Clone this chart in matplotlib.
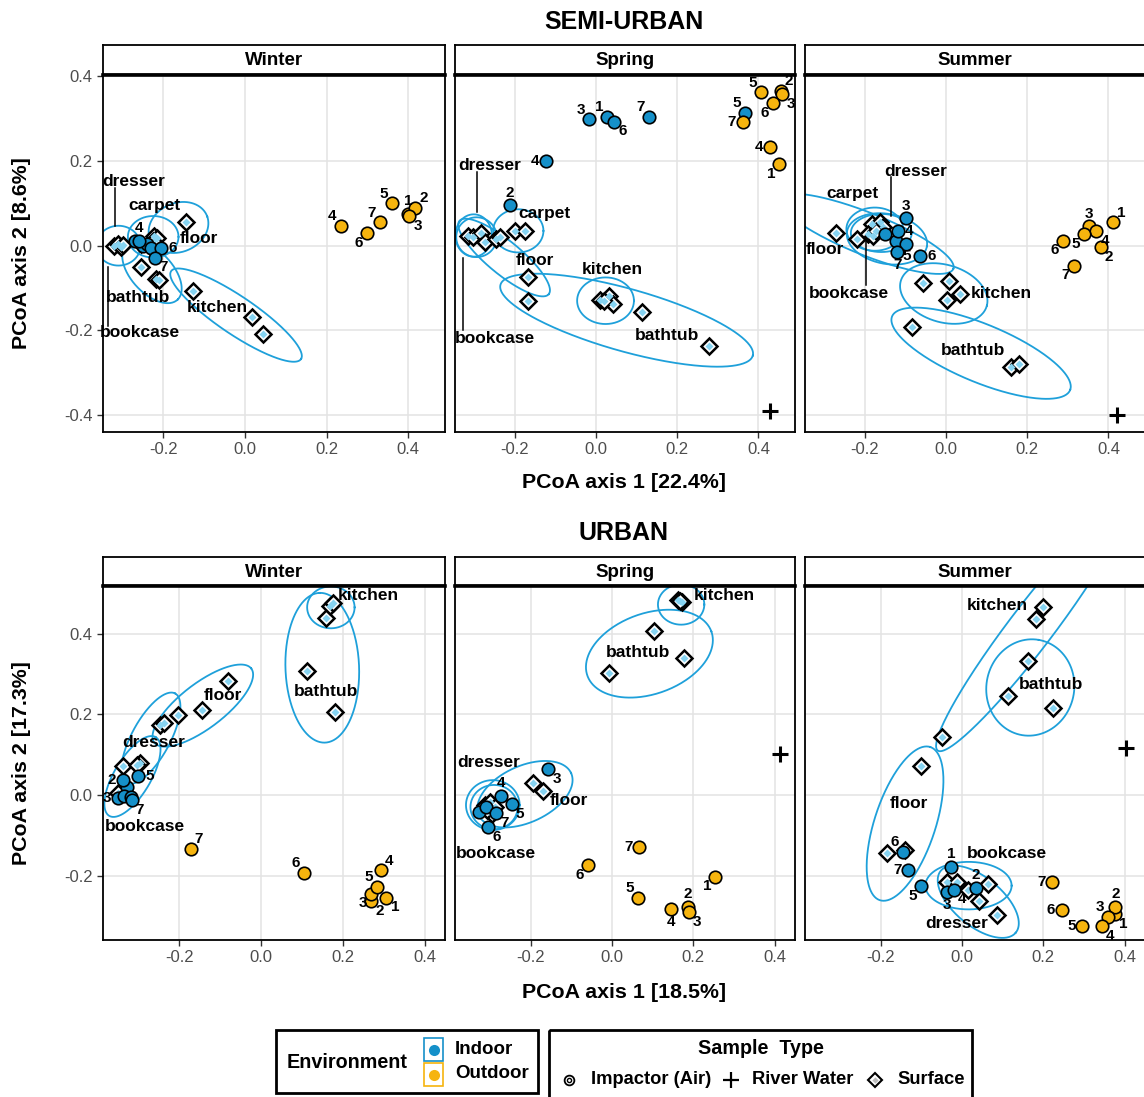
import numpy as np
import matplotlib.pyplot as plt
from matplotlib.patches import Rectangle

plt.rcParams['font.family'] = ['Liberation Sans', 'DejaVu Sans']

W, H = 1144, 1097
BLUE = '#1590c9'
ORANGE = '#f6b40e'
RING = '#1ea0da'
LIGHT = '#86d3f1'
TICK = '#4d4d4d'

seasons = ['Winter', 'Spring', 'Summer']
site_ids = ['1', '2', '3', '4', '5', '6', '7']

# ---------------- SEMI-URBAN ----------------
su_win_in_x = [-0.25, -0.27, -0.24, -0.26, -0.23, -0.205, -0.22]
su_win_in_y = [0.0, 0.01, 0.005, 0.012, -0.005, -0.005, -0.028]
su_win_in_lab = ['', '', '', 'u', '', 'r', 'dr']
su_win_out_x = [0.40, 0.417, 0.403, 0.234, 0.36, 0.298, 0.331]
su_win_out_y = [0.075, 0.09, 0.07, 0.047, 0.10, 0.029, 0.055]
su_win_out_lab = ['u', 'ur', 'dr', 'ul', 'ul', 'dl', 'ul']
su_win_surf_x = [-0.320, -0.312, -0.305, -0.298, -0.255, -0.235, -0.222, -0.215, -0.226,
                 -0.145, -0.254, -0.217, -0.210, -0.128, 0.017, 0.044]
su_win_surf_y = [0.000, 0.003, -0.004, 0.001, 0.005, 0.002, 0.022, 0.018, 0.012,
                 0.055, -0.051, -0.078, -0.082, -0.106, -0.169, -0.209]
su_win_river = None
su_win_groups = ['dresser', 'carpet', 'floor', 'bathtub', 'kitchen', 'bookcase']
su_win_gx = [-0.274, -0.221, -0.113, -0.262, -0.068, -0.258]
su_win_gy = [0.151, 0.094, 0.016, -0.123, -0.145, -0.204]
su_win_leaders = [(-0.318, 0.137, 0.047), (-0.336, -0.190, -0.051)]
su_win_ell = [(-0.310, 0.000, 0.054, 0.047, 0), (-0.225, 0.021, 0.062, 0.049, 0),
              (-0.163, 0.043, 0.075, 0.058, 20), (-0.228, -0.063, 0.090, 0.050, -45),
              (-0.022, -0.164, 0.190, 0.045, -33)]

su_spr_in_x = [0.027, -0.212, -0.018, -0.123, 0.366, 0.045, 0.131]
su_spr_in_y = [0.305, 0.095, 0.298, 0.201, 0.313, 0.293, 0.305]
su_spr_in_lab = ['ul', 'u', 'ul', 'l', 'ul', 'dr', 'ul']
su_spr_out_x = [0.451, 0.455, 0.459, 0.428, 0.407, 0.435, 0.362]
su_spr_out_y = [0.193, 0.366, 0.357, 0.234, 0.362, 0.336, 0.291]
su_spr_out_lab = ['dl', 'ur', 'dr', 'l', 'ul', 'dl', 'l']
su_spr_surf_x = [-0.316, -0.303, -0.283, -0.275, -0.246, -0.237, -0.200, -0.175,
                 -0.167, -0.167, 0.009, 0.031, 0.042, 0.020, 0.112, 0.277]
su_spr_surf_y = [0.024, 0.020, 0.031, 0.008, 0.016, 0.020, 0.034, 0.034,
                 -0.073, -0.131, -0.128, -0.120, -0.138, -0.130, -0.157, -0.236]
su_spr_river = (0.428, -0.391)
su_spr_groups = ['dresser', 'carpet', 'floor', 'kitchen', 'bathtub', 'bookcase']
su_spr_gx = [-0.262, -0.127, -0.152, 0.040, 0.174, -0.250]
su_spr_gy = [0.189, 0.075, -0.034, -0.057, -0.211, -0.219]
su_spr_leaders = [(-0.295, 0.173, 0.079), (-0.328, -0.200, -0.028)]
su_spr_ell = [(-0.302, 0.024, 0.045, 0.050, 0), (-0.295, 0.020, 0.050, 0.047, 0),
              (-0.192, 0.035, 0.062, 0.051, 0), (-0.227, -0.028, 0.140, 0.040, -38),
              (0.023, -0.130, 0.070, 0.055, 0), (0.075, -0.176, 0.322, 0.074, -15)]

su_sum_in_x = [-0.152, -0.123, -0.100, -0.119, -0.098, -0.064, -0.121]
su_sum_in_y = [0.028, 0.012, 0.065, 0.035, 0.005, -0.025, -0.016]
su_sum_in_lab = ['', '', 'u', 'r', 'd', 'r', 'd']
su_sum_out_x = [0.412, 0.381, 0.352, 0.370, 0.340, 0.289, 0.314]
su_sum_out_y = [0.055, -0.004, 0.046, 0.035, 0.028, 0.012, -0.047]
su_sum_out_lab = ['ur', 'dr', 'u', 'dr', 'dl', 'dl', 'dl']
su_sum_surf_x = [-0.272, -0.221, -0.184, -0.164, -0.193, -0.180, -0.156, -0.172,
                 -0.057, 0.006, 0.002, 0.034, -0.084, 0.160, 0.180]
su_sum_surf_y = [0.029, 0.016, 0.051, 0.055, 0.028, 0.024, 0.043, 0.035,
                 -0.089, -0.084, -0.128, -0.114, -0.193, -0.286, -0.280]
su_sum_river = (0.422, -0.400)
su_sum_groups = ['dresser', 'carpet', 'floor', 'bookcase', 'kitchen', 'bathtub']
su_sum_gx = [-0.075, -0.231, -0.300, -0.239, 0.135, 0.066]
su_sum_gy = [0.175, 0.124, -0.008, -0.114, -0.112, -0.248]
su_sum_leaders = [(-0.135, 0.161, 0.071), (-0.197, 0.012, -0.094)]
su_sum_ell = [(-0.197, 0.028, 0.230, 0.050, -21), (-0.176, 0.039, 0.070, 0.051, 0),
              (-0.146, 0.016, 0.100, 0.059, -10), (-0.160, 0.030, 0.075, 0.045, 0),
              (-0.006, -0.113, 0.110, 0.068, -15), (0.086, -0.254, 0.236, 0.069, -21.5)]

# ---------------- URBAN ----------------
u_win_in_x = [-0.327, -0.338, -0.349, -0.335, -0.300, -0.318, -0.316]
u_win_in_y = [0.021, 0.037, -0.008, -0.002, 0.047, -0.004, -0.012]
u_win_in_lab = ['', 'l', 'l', '', 'r', '', 'dr']
u_win_out_x = [0.307, 0.270, 0.270, 0.293, 0.283, 0.105, -0.172]
u_win_out_y = [-0.255, -0.264, -0.245, -0.187, -0.228, -0.193, -0.133]
u_win_out_lab = ['dr', 'dr', 'dl', 'ur', 'ul', 'ul', 'ur']
u_win_surf_x = [-0.336, -0.296, -0.302, -0.349, -0.247, -0.236, -0.202, -0.145, -0.080,
                0.113, 0.181, 0.160, 0.169, 0.177]
u_win_surf_y = [0.072, 0.079, 0.074, 0.004, 0.174, 0.178, 0.199, 0.212, 0.282,
                0.307, 0.206, 0.440, 0.469, 0.477]
u_win_river = None
u_win_groups = ['kitchen', 'bathtub', 'floor', 'dresser', 'bookcase']
u_win_gx = [0.262, 0.159, -0.092, -0.261, -0.283]
u_win_gy = [0.496, 0.257, 0.246, 0.131, -0.077]
u_win_leaders = []
u_win_ell = [(-0.314, 0.046, 0.113, 0.045, 60), (-0.269, 0.141, 0.126, 0.047, 62),
             (-0.142, 0.222, 0.150, 0.055, 38), (0.150, 0.316, 0.186, 0.090, 92),
             (0.171, 0.466, 0.058, 0.052, 0)]

u_spr_in_x = [-0.327, -0.310, -0.157, -0.273, -0.247, -0.304, -0.285]
u_spr_in_y = [-0.041, -0.030, 0.064, -0.002, -0.022, -0.079, -0.045]
u_spr_in_lab = ['', '', 'dr', 'u', 'dr', 'dr', 'dr']
u_spr_out_x = [0.254, 0.187, 0.189, 0.144, 0.063, -0.058, 0.067]
u_spr_out_y = [-0.203, -0.278, -0.290, -0.284, -0.255, -0.174, -0.129]
u_spr_out_lab = ['dl', 'u', 'dr', 'd', 'ul', 'dl', 'l']
u_spr_surf_x = [-0.312, -0.300, -0.287, -0.295, -0.308, -0.195, -0.169,
                -0.007, 0.103, 0.177, 0.163, 0.173, 0.168]
u_spr_surf_y = [-0.025, -0.017, -0.029, -0.046, -0.037, 0.029, 0.010,
                0.303, 0.408, 0.340, 0.484, 0.479, 0.481]
u_spr_river = (0.413, 0.102)
u_spr_groups = ['kitchen', 'bathtub', 'dresser', 'floor', 'bookcase']
u_spr_gx = [0.276, 0.064, -0.304, -0.107, -0.286]
u_spr_gy = [0.496, 0.353, 0.081, -0.014, -0.145]
u_spr_leaders = []
u_spr_ell = [(-0.293, -0.025, 0.066, 0.062, 0), (-0.290, -0.030, 0.058, 0.055, 0),
             (-0.214, 0.002, 0.125, 0.070, 25), (0.092, 0.351, 0.162, 0.100, 20),
             (0.170, 0.473, 0.057, 0.050, 0)]

u_sum_in_x = [-0.027, 0.035, -0.037, -0.020, -0.100, -0.144, -0.132]
u_sum_in_y = [-0.178, -0.230, -0.241, -0.235, -0.227, -0.141, -0.187]
u_sum_in_lab = ['u', 'u', 'd', 'dr', 'dl', 'ul', 'l']
u_sum_out_x = [0.376, 0.377, 0.359, 0.344, 0.296, 0.245, 0.222]
u_sum_out_y = [-0.295, -0.278, -0.303, -0.325, -0.325, -0.286, -0.217]
u_sum_out_lab = ['dr', 'u', 'ul', 'dr', 'l', 'l', 'l']
u_sum_surf_x = [0.200, 0.182, 0.162, 0.114, 0.224, -0.049, -0.100, -0.184, -0.139,
                -0.037, -0.012, 0.016, 0.064, 0.042, 0.086]
u_sum_surf_y = [0.467, 0.436, 0.334, 0.247, 0.215, 0.145, 0.072, -0.143, -0.137,
                -0.217, -0.215, -0.237, -0.220, -0.264, -0.297]
u_sum_river = (0.404, 0.116)
u_sum_groups = ['kitchen', 'bathtub', 'floor', 'bookcase', 'dresser']
u_sum_gx = [0.087, 0.218, -0.131, 0.110, -0.012]
u_sum_gy = [0.470, 0.274, -0.021, -0.145, -0.320]
u_sum_leaders = []
u_sum_ell = [(0.169, 0.414, 0.380, 0.054, 53), (0.168, 0.267, 0.120, 0.108, 80),
             (-0.140, -0.071, 0.200, 0.075, 72), (0.016, -0.225, 0.106, 0.059, 0),
             (0.040, -0.265, 0.120, 0.060, -40)]

# label offsets (points) for the numbered sites
OFF = {'u': (0, 9), 'd': (0, -9), 'l': (-8, 0), 'r': (8, 0),
       'ul': (-6, 7), 'ur': (6, 7), 'dl': (-6, -7), 'dr': (6, -7)}


def px_axes(fig, x0, y0, x1, y1):
    return fig.add_axes([x0 / W, 1 - y1 / H, (x1 - x0) / W, (y1 - y0) / H])


def draw_ellipse(ax, cx, cy, a, b, ang):
    t = np.linspace(0, 2 * np.pi, 300)
    th = np.radians(ang)
    x = cx + a * np.cos(t) * np.cos(th) - b * np.sin(t) * np.sin(th)
    y = cy + a * np.cos(t) * np.sin(th) + b * np.sin(t) * np.cos(th)
    ax.plot(x, y, color=RING, lw=1.3, zorder=2)


def draw_panel(ax, p):
    for e in p['ell']:
        draw_ellipse(ax, *e)
    # surface swabs: black diamond, white ring, light blue core
    ax.plot(p['sx'], p['sy'], 'D', ms=8, mfc='white', mec='black', mew=1.8, zorder=3)
    ax.plot(p['sx'], p['sy'], 'D', ms=3.6, mfc=LIGHT, mec='none', zorder=3.5)
    ax.plot(p['ix'], p['iy'], 'o', ms=9, mfc=BLUE, mec='black', mew=1.2, zorder=4)
    ax.plot(p['ox'], p['oy'], 'o', ms=9, mfc=ORANGE, mec='black', mew=1.2, zorder=4)
    if p['river'] is not None:
        ax.plot(*p['river'], '+', ms=12, mec='black', mew=2.2, zorder=4)
    for xs, ys, labs in [(p['ix'], p['iy'], p['ilab']), (p['ox'], p['oy'], p['olab'])]:
        for x, y, s, d in zip(xs, ys, site_ids, labs):
            if d:
                ax.annotate(s, (x, y), xytext=OFF[d], textcoords='offset points',
                            ha='center', va='center', fontsize=11, weight='bold', zorder=5)
    for g, x, y in zip(p['groups'], p['gx'], p['gy']):
        ax.text(x, y, g, ha='center', va='center', fontsize=12.5, weight='bold', zorder=5)
    for x, y0, y1 in p['leaders']:
        ax.plot([x, x], [y0, y1], color='black', lw=1.1, zorder=5)


def make_row(fig, panels, top, strip, xlim, ylim, yticks, title, xlab, ylab):
    cols = [(103, 445), (455, 795), (805, 1145)]
    for k, (p, (x0, x1)) in enumerate(zip(panels, cols)):
        ax = px_axes(fig, x0, top[0], x1, top[1])
        ax.set_xlim(*xlim)
        ax.set_ylim(*ylim)
        ax.set_xticks([-0.2, 0.0, 0.2, 0.4])
        ax.set_xticklabels(['-0.2', '0.0', '0.2', '0.4'])
        ax.set_yticks(yticks)
        ax.set_yticklabels(['%.1f' % v for v in yticks] if k == 0 else [])
        ax.tick_params(length=4, color='#333333', labelcolor=TICK, labelsize=12,
                       width=1, left=(k == 0))
        ax.grid(color='#e3e3e3', lw=1.1)
        ax.set_axisbelow(True)
        for sp in ax.spines.values():
            sp.set_linewidth(1.3)
        ax.spines['top'].set_linewidth(2.6)
        draw_panel(ax, p)
        sx = px_axes(fig, x0, strip[0], x1, strip[1])
        sx.set_xticks([])
        sx.set_yticks([])
        for sp in sx.spines.values():
            sp.set_linewidth(1.3)
        sx.text(0.5, 0.45, seasons[k], transform=sx.transAxes, ha='center', va='center',
                fontsize=13.5, weight='bold')
    fig.text(624 / W, 1 - title[1] / H, title[0], ha='center', va='center',
             fontsize=18, weight='bold')
    fig.text(624 / W, 1 - xlab[1] / H, xlab[0], ha='center', va='center',
             fontsize=15.4, weight='bold')
    fig.text(22 / W, 1 - ylab[1] / H, ylab[0], ha='center', va='center',
             fontsize=15.4, weight='bold', rotation=90)


def panel(ix, iy, ilab, ox, oy, olab, sx, sy, river, groups, gx, gy, leaders, ell):
    return dict(ix=ix, iy=iy, ilab=ilab, ox=ox, oy=oy, olab=olab, sx=sx, sy=sy,
                river=river, groups=groups, gx=gx, gy=gy, leaders=leaders, ell=ell)


semi_urban = [
    panel(su_win_in_x, su_win_in_y, su_win_in_lab, su_win_out_x, su_win_out_y, su_win_out_lab,
          su_win_surf_x, su_win_surf_y, su_win_river, su_win_groups, su_win_gx, su_win_gy,
          su_win_leaders, su_win_ell),
    panel(su_spr_in_x, su_spr_in_y, su_spr_in_lab, su_spr_out_x, su_spr_out_y, su_spr_out_lab,
          su_spr_surf_x, su_spr_surf_y, su_spr_river, su_spr_groups, su_spr_gx, su_spr_gy,
          su_spr_leaders, su_spr_ell),
    panel(su_sum_in_x, su_sum_in_y, su_sum_in_lab, su_sum_out_x, su_sum_out_y, su_sum_out_lab,
          su_sum_surf_x, su_sum_surf_y, su_sum_river, su_sum_groups, su_sum_gx, su_sum_gy,
          su_sum_leaders, su_sum_ell),
]
urban = [
    panel(u_win_in_x, u_win_in_y, u_win_in_lab, u_win_out_x, u_win_out_y, u_win_out_lab,
          u_win_surf_x, u_win_surf_y, u_win_river, u_win_groups, u_win_gx, u_win_gy,
          u_win_leaders, u_win_ell),
    panel(u_spr_in_x, u_spr_in_y, u_spr_in_lab, u_spr_out_x, u_spr_out_y, u_spr_out_lab,
          u_spr_surf_x, u_spr_surf_y, u_spr_river, u_spr_groups, u_spr_gx, u_spr_gy,
          u_spr_leaders, u_spr_ell),
    panel(u_sum_in_x, u_sum_in_y, u_sum_in_lab, u_sum_out_x, u_sum_out_y, u_sum_out_lab,
          u_sum_surf_x, u_sum_surf_y, u_sum_river, u_sum_groups, u_sum_gx, u_sum_gy,
          u_sum_leaders, u_sum_ell),
]

fig = plt.figure(figsize=(W / 100, H / 100), dpi=100)

make_row(fig, semi_urban, (75, 432), (45, 74), (-0.348, 0.49), (-0.44, 0.403),
         [-0.4, -0.2, 0.0, 0.2, 0.4], ('SEMI-URBAN', 22),
         ('PCoA axis 1 [22.4%]', 483), ('PCoA axis 2 [8.6%]', 253))
make_row(fig, urban, (586, 940), (557, 585), (-0.386, 0.45), (-0.36, 0.519),
         [-0.2, 0.0, 0.2, 0.4], ('URBAN', 533),
         ('PCoA axis 1 [18.5%]', 993), ('PCoA axis 2 [17.3%]', 763))

# legends drawn in pixel space along the bottom
lg = fig.add_axes([0, 0, 1, 1])
lg.set_xlim(0, W)
lg.set_ylim(H, 0)
lg.axis('off')
lg.add_patch(Rectangle((276, 1030), 262, 63, fill=False, ec='black', lw=2))
lg.text(347, 1062, 'Environment', ha='center', va='center', fontsize=14.2, weight='bold')
lg.add_patch(Rectangle((424, 1038), 19, 23, fill=False, ec=BLUE, lw=1.2))
lg.add_patch(Rectangle((424, 1063), 19, 23, fill=False, ec=ORANGE, lw=1.2))
lg.plot([433.5], [1049.5], 'o', ms=8, mfc=BLUE, mec='none')
lg.plot([433.5], [1074.5], 'o', ms=8, mfc=ORANGE, mec='none')
lg.text(455, 1049, 'Indoor', ha='left', va='center', fontsize=13.5, weight='bold')
lg.text(455, 1074, 'Outdoor', ha='left', va='center', fontsize=13.5, weight='bold')

lg.add_patch(Rectangle((549, 1030), 423, 75, fill=False, ec='black', lw=2, clip_on=False))
lg.text(761, 1048, 'Sample  Type', ha='center', va='center', fontsize=14.2, weight='bold')
lg.plot([569], [1080], 'o', ms=7, mfc='white', mec='black', mew=1.3)
lg.plot([569], [1080], 'o', ms=3, mfc='none', mec='black', mew=1.0)
lg.text(591, 1080, 'Impactor (Air)', ha='left', va='center', fontsize=13.2, weight='bold')
lg.plot([731], [1080], '+', ms=12, mec='black', mew=1.6)
lg.text(752, 1080, 'River Water', ha='left', va='center', fontsize=13.2, weight='bold')
lg.plot([875], [1080], 'D', ms=7.5, mfc='white', mec='black', mew=1.5)
lg.plot([875], [1080], 'D', ms=3.2, mfc='#bbbbbb', mec='none')
lg.text(897, 1080, 'Surface', ha='left', va='center', fontsize=13.2, weight='bold')

fig.savefig('out.png', dpi=100)
